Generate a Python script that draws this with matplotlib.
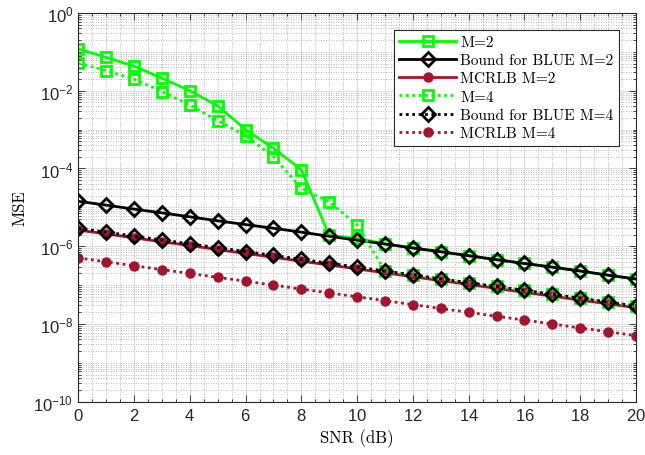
import matplotlib
matplotlib.use("Agg")
import matplotlib.pyplot as plt
from matplotlib.ticker import LogLocator, NullFormatter, MultipleLocator

plt.rcParams["font.family"] = ["Liberation Sans", "DejaVu Sans"]
plt.rcParams["axes.formatter.use_mathtext"] = True

snr_db = list(range(21))

mse_m2 = [0.12, 0.072, 0.043, 0.021, 0.010, 0.0041, 1.0e-3, 3.3e-4, 9.3e-5,
          1.9e-6, 1.6e-6, 1.15e-6, 9.0e-7, 7.2e-7, 5.7e-7, 4.5e-7, 3.6e-7,
          2.9e-7, 2.3e-7, 1.8e-7, 1.43e-7]
blue_m2 = [1.43e-5, 1.14e-5, 9.0e-6, 7.2e-6, 5.7e-6, 4.5e-6, 3.6e-6, 2.9e-6,
           2.3e-6, 1.8e-6, 1.43e-6, 1.14e-6, 9.0e-7, 7.2e-7, 5.7e-7, 4.5e-7,
           3.6e-7, 2.9e-7, 2.3e-7, 1.8e-7, 1.43e-7]
mcrlb_m2 = [2.6e-6, 2.07e-6, 1.64e-6, 1.30e-6, 1.04e-6, 8.2e-7, 6.5e-7, 5.2e-7,
            4.1e-7, 3.3e-7, 2.6e-7, 2.07e-7, 1.64e-7, 1.30e-7, 1.04e-7, 8.2e-8,
            6.5e-8, 5.2e-8, 4.1e-8, 3.3e-8, 2.6e-8]
mse_m4 = [0.051, 0.033, 0.020, 0.0095, 0.0043, 0.0017, 7.0e-4, 2.0e-4, 3.1e-5,
          1.4e-5, 3.5e-6, 2.3e-7, 1.83e-7, 1.45e-7, 1.15e-7, 9.2e-8, 7.3e-8,
          5.8e-8, 4.6e-8, 3.65e-8, 2.9e-8]
blue_m4 = [2.9e-6, 2.3e-6, 1.83e-6, 1.45e-6, 1.15e-6, 9.2e-7, 7.3e-7, 5.8e-7,
           4.6e-7, 3.65e-7, 2.9e-7, 2.3e-7, 1.83e-7, 1.45e-7, 1.15e-7, 9.2e-8,
           7.3e-8, 5.8e-8, 4.6e-8, 3.65e-8, 2.9e-8]
mcrlb_m4 = [5.0e-7, 3.97e-7, 3.15e-7, 2.5e-7, 1.99e-7, 1.58e-7, 1.26e-7, 1.0e-7,
            7.9e-8, 6.3e-8, 5.0e-8, 3.97e-8, 3.15e-8, 2.5e-8, 1.99e-8, 1.58e-8,
            1.26e-8, 1.0e-8, 7.9e-9, 6.3e-9, 5.0e-9]

green = "#00ff00"
darkred = "#a2142f"
dots = (0, (1, 1.3))

fig = plt.figure(figsize=(6.45, 4.56), dpi=100)
ax = fig.add_axes([0.1214, 0.1169, 0.8646, 0.8524])

ax.semilogy(snr_db, mse_m2, "-", color=green, lw=2, marker="s", ms=7.5,
            mfc="none", mew=2, label="M=2")
ax.semilogy(snr_db, blue_m2, "-", color="k", lw=2, marker="D", ms=7,
            mfc="none", mew=2, label="Bound for BLUE M=2")
ax.semilogy(snr_db, mcrlb_m2, "-", color=darkred, lw=2, marker="o", ms=6.5,
            mfc=darkred, mec=darkred, label="MCRLB M=2")
ax.semilogy(snr_db, mse_m4, linestyle=dots, color=green, lw=2, marker="s",
            ms=7.5, mfc="none", mew=2, label="M=4")
ax.semilogy(snr_db, blue_m4, linestyle=dots, color="k", lw=2, marker="D",
            ms=7, mfc="none", mew=2, label="Bound for BLUE M=4")
ax.semilogy(snr_db, mcrlb_m4, linestyle=dots, color=darkred, lw=2, marker="o",
            ms=6.5, mfc=darkred, mec=darkred, label="MCRLB M=4")

ax.set_xlim(0, 20)
ax.set_ylim(1e-10, 1)
ax.xaxis.set_major_locator(MultipleLocator(2))
ax.xaxis.set_minor_locator(MultipleLocator(0.5))
ax.set_yticks([1e-10, 1e-8, 1e-6, 1e-4, 1e-2, 1])
ax.set_yticklabels([r"$\mathregular{10^{-10}}$", r"$\mathregular{10^{-8}}$",
                    r"$\mathregular{10^{-6}}$", r"$\mathregular{10^{-4}}$",
                    r"$\mathregular{10^{-2}}$", r"$\mathregular{10^{0}}$"])
ax.yaxis.set_minor_locator(LogLocator(base=10, subs=range(1, 10), numticks=40))
ax.yaxis.set_minor_formatter(NullFormatter())

ax.tick_params(which="both", direction="in", top=True, right=True,
               labelsize=12, width=0.6, colors="#262626")
ax.tick_params(which="major", length=5)
ax.tick_params(which="minor", length=2.5)
for s in ax.spines.values():
    s.set_linewidth(0.8)
    s.set_color("#262626")

ax.grid(True, which="major", color="#dcdcdc", lw=0.8, ls="-")
ax.grid(True, which="minor", color="#a0a0a0", lw=0.6, ls=(0, (1, 2)))
ax.set_axisbelow(True)

ax.set_xlabel("SNR (dB)", fontfamily="cmr10", fontsize=12)
ax.set_ylabel("MSE", fontfamily="cmr10", fontsize=12)

leg = ax.legend(loc="upper right", prop={"family": "cmr10", "size": 11},
                handlelength=3.7, fancybox=False, framealpha=1,
                edgecolor="#262626", borderpad=0.35, labelspacing=0.3,
                handletextpad=0.3, borderaxespad=1.1)
leg.get_frame().set_linewidth(0.8)

fig.savefig("out.png", dpi=100)
